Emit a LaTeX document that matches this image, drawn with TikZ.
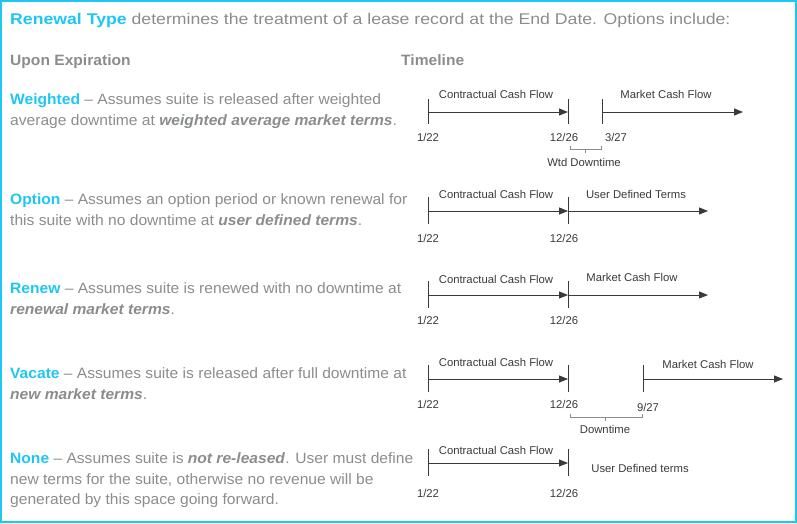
\documentclass[tikz,border=0pt]{standalone}
\usepackage{fontspec}
\setmainfont{Liberation Sans}
\newfontfamily\titlefont[FakeStretch=1.14,Ligatures=TeX]{Liberation Sans}
\newfontfamily\bodyfont[FakeStretch=1.04,Ligatures=TeX]{Liberation Sans}
\usetikzlibrary{arrows.meta}
\definecolor{cy}{HTML}{1EC6F4}
\definecolor{gr}{HTML}{8A8C8E}
\definecolor{ln}{HTML}{3A3A3A}
\tikzset{
  txt/.style={anchor=base west,inner sep=0pt,text=gr,font=\bodyfont\fontsize{15}{18}\selectfont},
  hd/.style={anchor=base west,inner sep=0pt,text=gr,font=\bodyfont\fontsize{15}{18}\selectfont\bfseries},
  lab/.style={inner sep=0pt,text=ln,font=\fontsize{11.3}{13}\selectfont},
  arr/.style={draw=ln,line width=0.9pt,-{Triangle[length=9pt,width=7pt]}},
  tk/.style={draw=ln,line width=0.9pt},
  br/.style={draw=gr,line width=0.8pt}
}
\newcommand{\kw}[1]{\textcolor{cy}{\textbf{#1}}}
\begin{document}
\begin{tikzpicture}[x=1pt,y=-1pt]
\useasboundingbox (0,0) rectangle (797,523);
\draw[cy,line width=1.5pt] (1,1) rectangle (796,522);
\node[txt,font=\titlefont\fontsize{15.5}{18}\selectfont] (title) at (10,24) {\kw{Renewal Type} determines the treatment of a lease record at the End Date. Options include:};
\node[hd] (h1) at (10,65) {Upon Expiration};
\node[hd] (h2) at (401,65) {Timeline};
% left texts
\node[txt] (w1) at (10,104) {\kw{Weighted} – Assumes suite is released after weighted};
\node[txt] (w2) at (10,125) {average downtime at \textbf{\textit{weighted average market terms}}.};
\node[txt] (o1) at (10,204) {\kw{Option} – Assumes an option period or known renewal for};
\node[txt] (o2) at (10,225) {this suite with no downtime at \textbf{\textit{user defined terms}}.};
\node[txt] (r1) at (10,293) {\kw{Renew} – Assumes suite is renewed with no downtime at};
\node[txt] (r2) at (10,314) {\textbf{\textit{renewal market terms}}.};
\node[txt] (v1) at (10,378) {\kw{Vacate} – Assumes suite is released after full downtime at};
\node[txt] (v2) at (10,399) {\textbf{\textit{new market terms}}.};
\node[txt] (n1) at (10,463) {\kw{None} – Assumes suite is \textbf{\textit{not re-leased}}. User must define};
\node[txt] (n2) at (10,484) {new terms for the suite, otherwise no revenue will be};
\node[txt] (n3) at (10,504) {generated by this space going forward.};
% Timeline 1
\coordinate (a1) at (428,112); \coordinate (b1) at (568,112); \coordinate (c1) at (602,112); \coordinate (e1) at (743,112);
\draw[tk] (428,99)--(428,124); \draw[tk] (568,99)--(568,124); \draw[tk] (602,99)--(602,124);
\draw[arr] (a1)--(b1); \draw[arr] (c1)--(e1);
\node[lab] (l1a) at (496,94) {Contractual Cash Flow};
\node[lab] (l1b) at (666,94) {Market Cash Flow};
\node[lab] (d1a) at (428,137) {1/22};
\node[lab] (d1b) at (564,137) {12/26};
\node[lab] (d1c) at (616,137) {3/27};
\draw[br] (570,146)--(570,149)--(601,149)--(601,146); \draw[br] (585,149)--(585,153);
\node[lab] (wd) at (584,162) {Wtd Downtime};
% Timeline 2
\coordinate (a2) at (428,211); \coordinate (b2) at (568,211); \coordinate (e2) at (708,211);
\draw[tk] (428,197)--(428,224); \draw[tk] (568,197)--(568,224);
\draw[arr] (a2)--(b2); \draw[arr] (b2)--(e2);
\node[lab] (l2a) at (496,194) {Contractual Cash Flow};
\node[lab] (l2b) at (636,194) {User Defined Terms};
\node[lab] (d2a) at (428,238) {1/22};
\node[lab] (d2b) at (564,238) {12/26};
% Timeline 3
\coordinate (a3) at (428,295); \coordinate (b3) at (568,295); \coordinate (e3) at (708,295);
\draw[tk] (428,281)--(428,308); \draw[tk] (568,281)--(568,308);
\draw[arr] (a3)--(b3); \draw[arr] (b3)--(e3);
\node[lab] (l3a) at (496,279) {Contractual Cash Flow};
\node[lab] (l3b) at (632,277) {Market Cash Flow};
\node[lab] (d3a) at (428,320) {1/22};
\node[lab] (d3b) at (564,320) {12/26};
% Timeline 4
\coordinate (a4) at (428,379); \coordinate (b4) at (568,379); \coordinate (c4) at (643,379); \coordinate (e4) at (783,379);
\draw[tk] (428,365)--(428,392); \draw[tk] (568,365)--(568,392); \draw[tk] (643,365)--(643,392);
\draw[arr] (a4)--(b4); \draw[arr] (c4)--(e4);
\node[lab] (l4a) at (496,362) {Contractual Cash Flow};
\node[lab] (l4b) at (708,364) {Market Cash Flow};
\node[lab] (d4a) at (428,404) {1/22};
\node[lab] (d4b) at (564,404) {12/26};
\node[lab] (d4c) at (648,407) {9/27};
\draw[br] (570,414)--(570,417)--(642,417)--(642,414); \draw[br] (605,417)--(605,421);
\node[lab] (dt) at (605,429) {Downtime};
% Timeline 5
\coordinate (a5) at (428,463); \coordinate (b5) at (568,463);
\draw[tk] (428,449)--(428,476); \draw[tk] (568,449)--(568,476);
\draw[arr] (a5)--(b5);
\node[lab] (l5a) at (496,450) {Contractual Cash Flow};
\node[lab] (l5b) at (640,468) {User Defined terms};
\node[lab] (d5a) at (428,493) {1/22};
\node[lab] (d5b) at (564,493) {12/26};
\end{tikzpicture}
\end{document}
